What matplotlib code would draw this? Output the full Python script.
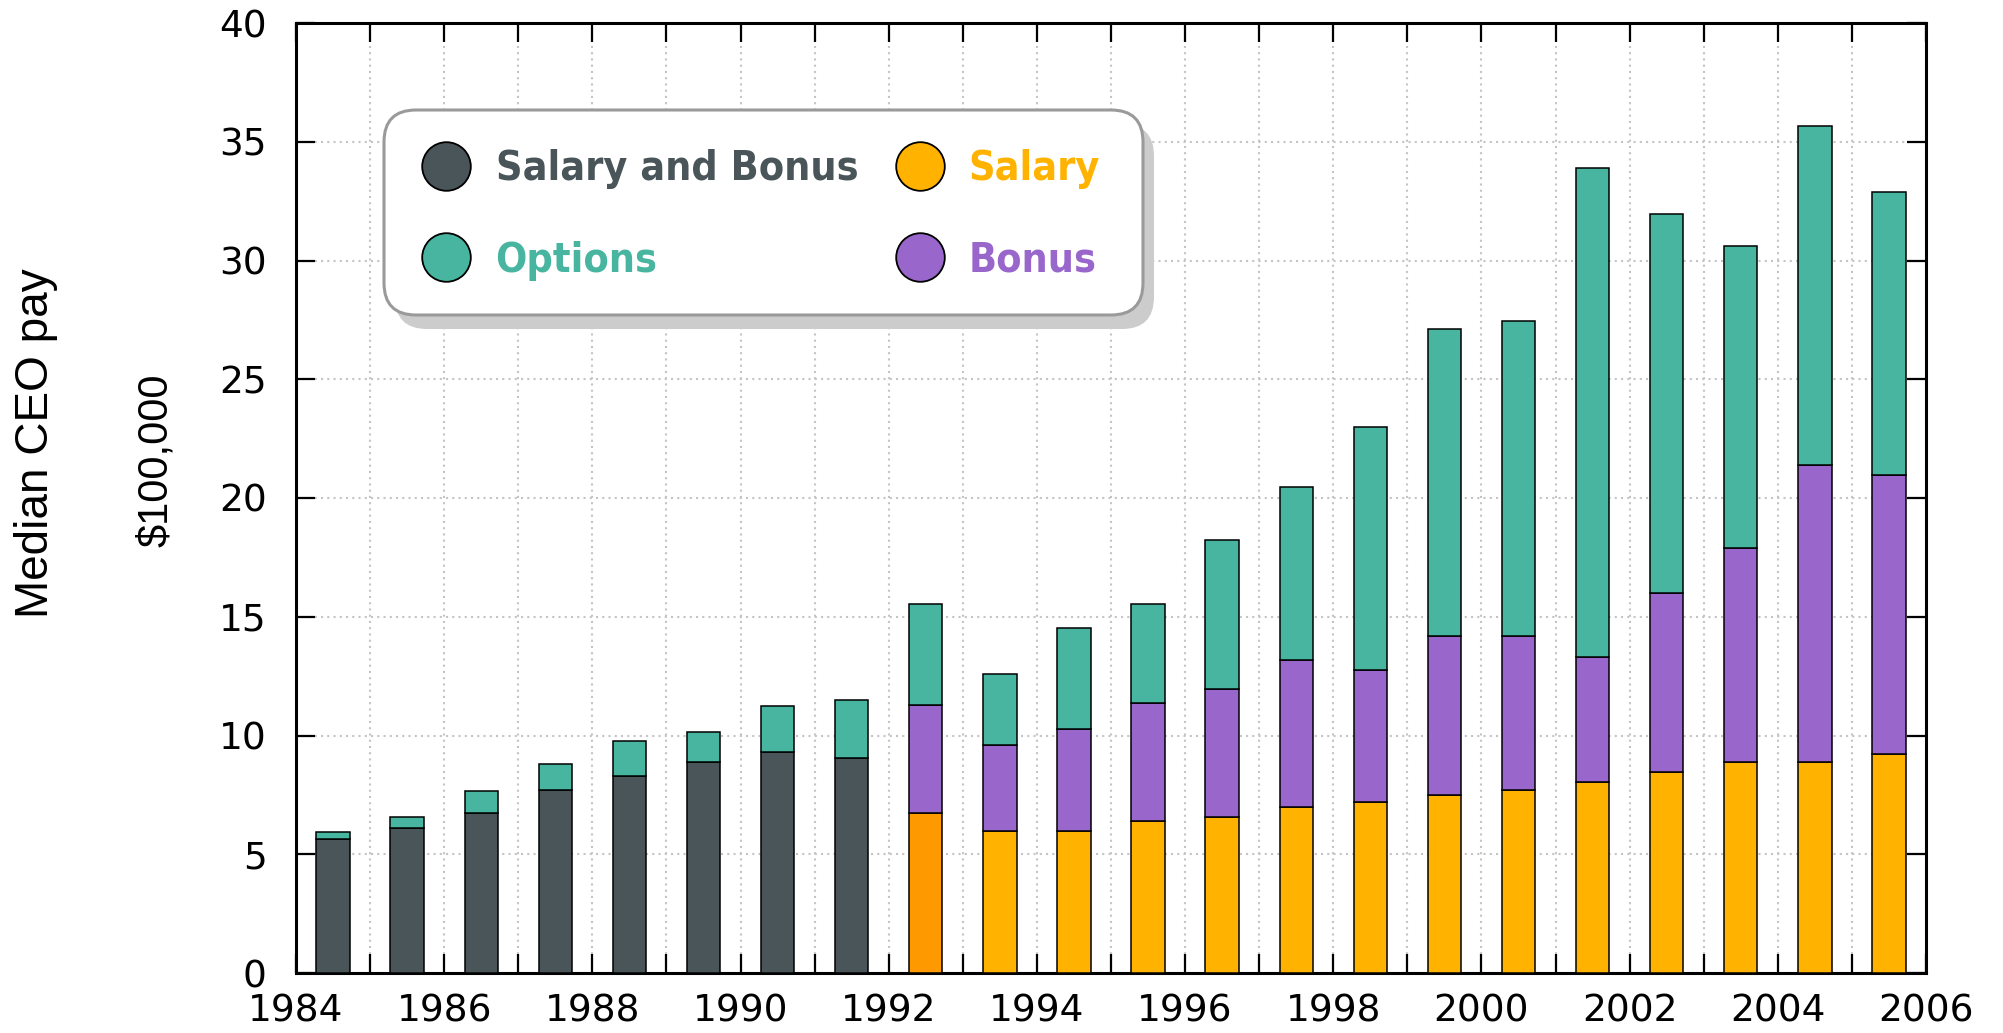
import matplotlib
matplotlib.use('Agg')
import matplotlib.pyplot as plt
import numpy as np
from matplotlib.patches import FancyBboxPatch
from matplotlib.lines import Line2D

# median CEO pay, units of $100,000
years_sb = [1984, 1985, 1986, 1987, 1988, 1989, 1990, 1991]
salary_bonus = [5.65, 6.10, 6.75, 7.70, 8.30, 8.90, 9.30, 9.05]
options_sb = [0.30, 0.45, 0.93, 1.10, 1.48, 1.23, 1.95, 2.43]

years_split = [1992, 1993, 1994, 1995, 1996, 1997, 1998, 1999, 2000,
               2001, 2002, 2003, 2004, 2005]
salary = [6.72, 6.00, 6.00, 6.40, 6.55, 6.98, 7.18, 7.50, 7.72, 8.05, 8.47, 8.90, 8.90, 9.22]
bonus = [4.57, 3.60, 4.27, 4.97, 5.40, 6.22, 5.57, 6.70, 6.48, 5.25, 7.53, 9.00, 12.50, 11.73]
options = [4.24, 3.00, 4.25, 4.16, 6.28, 7.28, 10.22, 12.92, 13.25, 20.58, 15.97, 12.73, 14.28, 11.93]

c_sb = '#4a555a'
c_opt = '#48b5a0'
c_sal = '#ffb300'
c_sal92 = '#ff9900'
c_bon = '#9966cc'

plt.rcParams['font.family'] = 'DejaVu Sans'

fig = plt.figure(figsize=(20.03, 10.33), dpi=100)
ax = fig.add_axes([296/2003, 60/1033, 1630/2003, 950/1033])

w = 0.45
bar_kw = dict(width=w, edgecolor='black', linewidth=1.1, zorder=3)
x_sb = np.array(years_sb) + 0.5
x_sp = np.array(years_split) + 0.5
ax.bar(x_sb, salary_bonus, color=c_sb, **bar_kw)
ax.bar(x_sb, options_sb, bottom=salary_bonus, color=c_opt, **bar_kw)
sal_colors = [c_sal92] + [c_sal] * (len(salary) - 1)
ax.bar(x_sp, salary, color=sal_colors, **bar_kw)
ax.bar(x_sp, bonus, bottom=salary, color=c_bon, **bar_kw)
ax.bar(x_sp, options, bottom=np.add(salary, bonus), color=c_opt, **bar_kw)

ax.set_xlim(1984, 2006)
ax.set_ylim(0, 40)
ax.set_xticks(range(1984, 2007))
ax.set_xticklabels([str(y) if y % 2 == 0 else '' for y in range(1984, 2007)])
ax.set_yticks(range(0, 41, 5))
ax.tick_params(axis='both', direction='in', length=14, width=1.6, labelsize=27,
               top=True, right=True)
ax.tick_params(axis='x', pad=15)
ax.tick_params(axis='y', pad=21)
for s in ax.spines.values():
    s.set_linewidth(2.2)
ax.grid(True, linestyle=(0, (1, 2)), color='#c4c4c4', linewidth=1.5, zorder=0)
ax.set_axisbelow(True)

fig.text(36/2003, 1 - 443/1033, 'Median CEO pay', rotation=90, fontsize=33,
         family='Liberation Sans', ha='center', va='center')
fig.text(156/2003, 1 - 460/1033, '$100,000', rotation=90, fontsize=30,
         family='Liberation Sans', ha='center', va='center')

# legend box with drop shadow (figure inches)
bx, by, bw, bh = 3.84, 7.18, 7.59, 2.05
shadow = FancyBboxPatch((bx + 0.11, by - 0.14), bw, bh,
                        boxstyle='round,pad=0,rounding_size=0.32',
                        transform=fig.dpi_scale_trans, facecolor='#cccccc',
                        edgecolor='none', zorder=6)
box = FancyBboxPatch((bx, by), bw, bh, boxstyle='round,pad=0,rounding_size=0.32',
                     transform=fig.dpi_scale_trans, facecolor='white',
                     edgecolor='#9a9a9a', linewidth=2.2, zorder=7)
fig.patches.extend([shadow, box])

labels = ['Salary and Bonus', 'Options', 'Salary', 'Bonus']
lcols = [c_sb, c_opt, c_sal, c_bon]
handles = [Line2D([], [], linestyle='none', marker='o', markersize=35,
                  markerfacecolor=c, markeredgecolor='black', markeredgewidth=1.3)
           for c in lcols]
leg = fig.legend(handles, labels, ncol=2, loc='center',
                 bbox_to_anchor=(763/2003, 1 - 215/1033), frameon=False,
                 prop={'weight': 'bold', 'size': 29.5, 'stretch': 'condensed'},
                 handlelength=1.0, handletextpad=0.70, columnspacing=1.0,
                 labelspacing=1.26)
leg.set_zorder(8)
for t, c in zip(leg.get_texts(), lcols):
    t.set_color(c)

fig.savefig('out.png', dpi=100)
